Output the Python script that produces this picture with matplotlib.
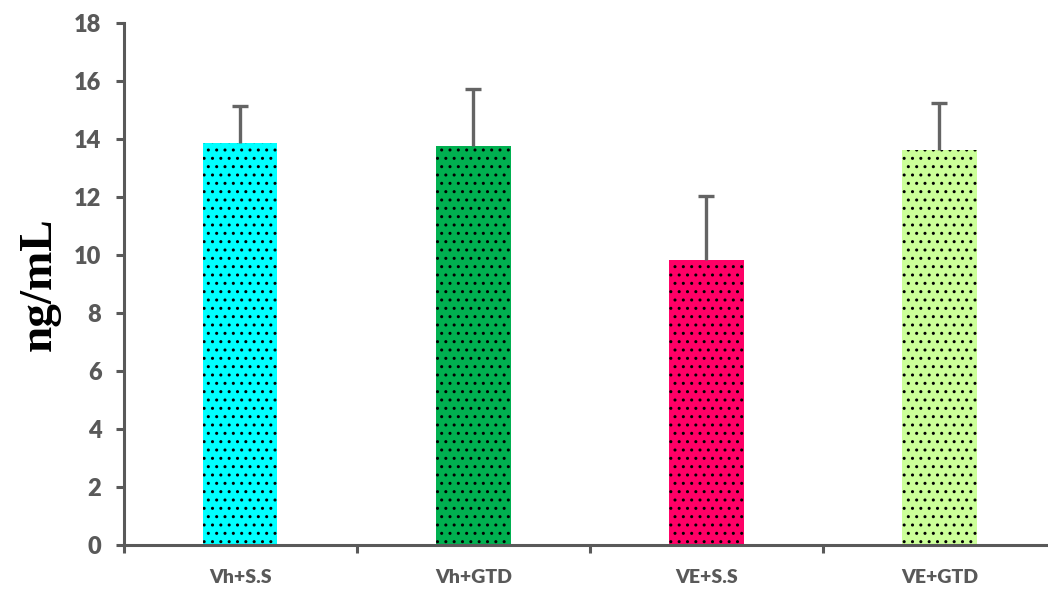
import matplotlib
matplotlib.use('Agg')
import matplotlib.pyplot as plt
import numpy as np

groups = ['Vh+S.S', 'Vh+GTD', 'VE+S.S', 'VE+GTD']
means = [13.85, 13.75, 9.82, 13.62]
errors = [1.28, 1.97, 2.21, 1.62]
colors = ['#00FFFF', '#00B050', '#FF0066', '#CCFF99']

GRAY = '#595959'

fig = plt.figure(figsize=(10.48, 5.89), dpi=100)
ax = fig.add_axes([0.118, 0.0747, 0.8896, 0.8863])

x = np.arange(len(groups))
bars = ax.bar(x, means, width=0.32, color=colors, edgecolor='black',
              linewidth=0, hatch='..', zorder=2)
_, caps, _ = ax.errorbar(x, means, yerr=[np.zeros(len(errors)), errors],
                         fmt='none', ecolor='#646464', elinewidth=2.4,
                         capsize=5.5, capthick=2.4, zorder=3)
# only the upper whisker gets a cap
for cap in caps:
    if np.allclose(cap.get_ydata(), means):
        cap.set_visible(False)

ax.set_xlim(-0.5, 3.5)
ax.set_ylim(0, 18)
ax.set_yticks(range(0, 19, 2))
ax.set_xticks(np.arange(-0.5, 4, 1), minor=False)
ax.set_xticklabels([])
ax.set_xticks(x, minor=True)
ax.set_xticklabels(groups, minor=True)

for side in ['top', 'right']:
    ax.spines[side].set_visible(False)
for side in ['left', 'bottom']:
    ax.spines[side].set_color(GRAY)
    ax.spines[side].set_linewidth(2.2)

ax.tick_params(axis='y', which='major', direction='out', length=6, width=2.2,
               color=GRAY, labelcolor=GRAY, labelsize=17, pad=10)
ax.tick_params(axis='x', which='major', direction='out', length=6, width=2.2,
               color=GRAY)
ax.tick_params(axis='x', which='minor', length=0, labelcolor=GRAY,
               labelsize=14, pad=17)
for lab in ax.get_yticklabels() + ax.get_xticklabels(minor=True):
    lab.set_fontfamily('Lato')
    lab.set_fontweight('heavy')

fig.text(0.038, 0.517, 'ng/mL', rotation=90, ha='center', va='center',
         fontsize=34, fontweight='bold', family='Liberation Serif')

fig.savefig('out.png', dpi=100)
